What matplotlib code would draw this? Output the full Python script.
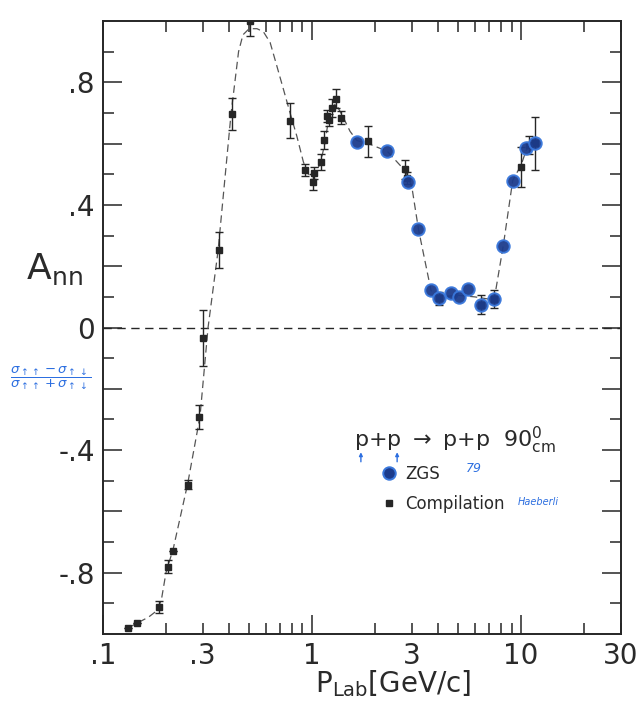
import matplotlib
matplotlib.use("Agg")
import matplotlib.pyplot as plt
from matplotlib.ticker import FixedLocator, FuncFormatter, NullFormatter
from matplotlib.lines import Line2D

# ---- data ----
comp_x = [0.132, 0.145, 0.185, 0.204, 0.217, 0.254, 0.289, 0.30, 0.36, 0.413, 0.505,
          0.785, 0.926, 1.015, 1.026, 1.104, 1.145, 1.176, 1.206, 1.25, 1.298, 1.377,
          1.86, 2.786, 2.84, 4.07, 6.41, 7.43, 10.0, 10.9, 11.67]
comp_y = [-0.981, -0.965, -0.913, -0.78, -0.729, -0.513, -0.292, -0.034, 0.253, 0.696, 1.0,
          0.674, 0.514, 0.475, 0.503, 0.54, 0.612, 0.69, 0.677, 0.716, 0.747, 0.685,
          0.607, 0.516, 0.489, 0.095, 0.075, 0.094, 0.525, 0.595, 0.601]
comp_err = [0, 0, 0.02, 0.02, 0, 0.015, 0.04, 0.09, 0.06, 0.053, 0.05,
            0.057, 0.02, 0.025, 0.02, 0.025, 0.03, 0.02, 0.02, 0.03, 0.03, 0.02,
            0.05, 0.03, 0.02, 0.02, 0.03, 0.03, 0.065, 0.03, 0.087]

zgs_x = [1.636, 2.29, 2.87, 3.23, 3.71, 4.07, 4.61, 5.07, 5.56, 6.41, 7.43, 8.23, 9.12, 10.6, 11.67]
zgs_y = [0.604, 0.576, 0.475, 0.32, 0.124, 0.095, 0.113, 0.10, 0.126, 0.075, 0.094, 0.266,
         0.478, 0.587, 0.601]

curve_x = [0.132, 0.145, 0.165, 0.18, 0.19, 0.2, 0.217, 0.254, 0.291, 0.318, 0.355, 0.41,
           0.445, 0.467, 0.5, 0.545, 0.585, 0.63, 0.678, 0.729, 0.785, 0.845, 0.909, 0.96,
           1.02, 1.1, 1.15, 1.2, 1.25, 1.3, 1.4, 1.52, 1.64, 1.86, 2.29, 2.8, 3.0, 3.23,
           3.71, 4.07, 5.0, 6.0, 7.43, 8.23, 9.12, 10.0, 10.6, 11.67]
curve_y = [-0.98, -0.965, -0.945, -0.925, -0.89, -0.8, -0.72, -0.51, -0.29, 0.0, 0.25, 0.70,
           0.90, 0.955, 0.975, 0.975, 0.965, 0.93, 0.854, 0.778, 0.70, 0.625, 0.54, 0.5,
           0.49, 0.54, 0.6, 0.68, 0.72, 0.73, 0.69, 0.64, 0.61, 0.6, 0.575, 0.51, 0.46, 0.32,
           0.12, 0.1, 0.105, 0.1, 0.09, 0.27, 0.48, 0.53, 0.58, 0.6]

x_tick_labels = {0.1: ".1", 0.3: ".3", 1: "1", 3: "3", 10: "10", 30: "30"}
y_tick_labels = {-0.8: "-.8", -0.4: "-.4", 0.0: "0", 0.4: ".4", 0.8: ".8"}

INK = "#262626"
BLUE_FACE = "#1c3c8c"
BLUE_EDGE = "#3a78dc"
HAND_BLUE = "#2d6fe0"

plt.rcParams['font.family'] = ['DejaVu Sans']

fig = plt.figure(figsize=(6.44, 7.08), dpi=100)
ax = fig.add_axes([0.16, 0.1045, 0.804, 0.8658])
ax.set_xscale('log')
ax.set_xlim(0.1, 30)
ax.set_ylim(-1.0, 1.0)

# zero line
ax.axhline(0, color=INK, lw=1.0, dashes=(6, 4), zorder=1)
# smooth hand-drawn curve
ax.plot(curve_x, curve_y, color="#555555", lw=0.9, dashes=(6, 3.5), zorder=2)

# compilation points
ax.errorbar(comp_x, comp_y, yerr=comp_err, fmt='s', ms=4.5, color=INK, mfc=INK, mec=INK,
            ecolor=INK, elinewidth=1.0, capsize=3, capthick=1.0, zorder=4)
# ZGS points
ax.plot(zgs_x, zgs_y, 'o', ms=9, mfc=BLUE_FACE, mec=BLUE_EDGE, mew=1.4, alpha=0.95, zorder=5)

# ticks
major_x = [0.1, 1, 10]
minor_x = [0.2, 0.3, 0.4, 0.5, 0.6, 0.7, 0.8, 0.9, 2, 3, 4, 5, 6, 7, 8, 9, 20, 30]
ax.xaxis.set_major_locator(FixedLocator(major_x))
ax.xaxis.set_minor_locator(FixedLocator(minor_x))
ax.xaxis.set_major_formatter(FuncFormatter(lambda v, p: x_tick_labels.get(round(v, 3), "")))
ax.xaxis.set_minor_formatter(FuncFormatter(lambda v, p: x_tick_labels.get(round(v, 3), "")))

ax.yaxis.set_major_locator(FixedLocator([-0.8, -0.6, -0.4, -0.2, 0.0, 0.2, 0.4, 0.6, 0.8]))
ax.yaxis.set_minor_locator(FixedLocator([-0.9, -0.7, -0.5, -0.3, -0.1, 0.1, 0.3, 0.5, 0.7, 0.9]))
ax.yaxis.set_major_formatter(FuncFormatter(lambda v, p: y_tick_labels.get(round(v, 2), "")))
ax.yaxis.set_minor_formatter(NullFormatter())

ax.tick_params(which='both', direction='in', top=True, right=True, color=INK,
               labelcolor="#2a2a2a", labelsize=20, width=1.1)
ax.tick_params(which='major', length=14)
ax.tick_params(which='minor', length=8)
ax.tick_params(axis='x', which='both', pad=6)
ax.tick_params(axis='y', which='both', pad=6)
for s in ax.spines.values():
    s.set_color(INK)
    s.set_linewidth(1.4)

# axis labels
fig.text(0.61, 0.035, r"P$_{\rm Lab}$[GeV/c]", ha='center', va='center', fontsize=20, color="#2a2a2a")
fig.text(0.04, 0.62, r"A$_{\rm nn}$", ha='left', va='center', fontsize=26, color="#2a2a2a")
fig.text(0.078, 0.466,
         r"$\dfrac{\sigma_{\uparrow\uparrow}-\sigma_{\uparrow\downarrow}}{\sigma_{\uparrow\uparrow}+\sigma_{\uparrow\downarrow}}$",
         ha='center', va='center', fontsize=9.5, color=HAND_BLUE)

# reaction label
ax.text(0.485, 0.305, r"p+p $\rightarrow$ p+p  90$^{0}_{\rm cm}$", transform=ax.transAxes,
        fontsize=16, color="#2a2a2a", ha='left', va='baseline')
# small hand-drawn spin arrows under the first two protons
for xa in (0.498, 0.568):
    ax.annotate("", xy=(xa, 0.2965), xytext=(xa, 0.281), xycoords='axes fraction',
                textcoords='axes fraction',
                arrowprops=dict(arrowstyle='-|>', color=HAND_BLUE, lw=1.0,
                                mutation_scale=5, shrinkA=0, shrinkB=0))

# legend
handles = [Line2D([], [], ls='none', marker='o', ms=9, mfc=BLUE_FACE, mec=BLUE_EDGE, mew=1.4),
           Line2D([], [], ls='none', marker='s', ms=4.5, mfc=INK, mec=INK)]
leg = ax.legend(handles, ["ZGS", "Compilation"], loc='upper left',
                bbox_to_anchor=(0.52, 0.29), frameon=False, fontsize=12,
                handlelength=1.0, handletextpad=0.5, labelspacing=0.75, borderpad=0)
for t in leg.get_texts():
    t.set_color("#2a2a2a")
ax.text(0.70, 0.27, "79", transform=ax.transAxes, fontsize=9, color=HAND_BLUE,
        ha='left', va='center', style='italic')
ax.text(0.80, 0.216, "Haeberli", transform=ax.transAxes, fontsize=7, color=HAND_BLUE,
        ha='left', va='center', style='italic')

fig.savefig("out.png", dpi=100, facecolor='white')
